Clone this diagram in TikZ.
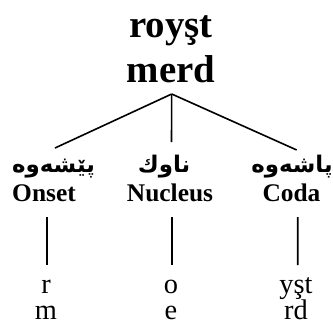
\documentclass[tikz,border=0pt]{standalone}
\usepackage{fontspec}
\setmainfont{Liberation Serif}
\newfontfamily\kurdish[Script=Arabic]{DejaVu Sans}
\TeXXeTstate=1
\begin{document}
\begin{tikzpicture}[x=1bp,y=-1bp,
  head/.style={font=\fontsize{39}{45}\selectfont\bfseries, inner sep=0, anchor=base},
  cat/.style={font=\fontsize{25.5}{30}\selectfont\bfseries, inner sep=0, anchor=base},
  catku/.style={font={\kurdish\fontsize{23}{26}\selectfont\bfseries}, inner sep=0, anchor=base},
  seg/.style={font=\fontsize{28.5}{32}\selectfont, inner sep=0, anchor=base},
  branch/.style={line width=1.6bp, black}]
\useasboundingbox (0,0) rectangle (333,329);

% syllable
\node[head] (w1) at (171,37) {royşt};
\node[head] (w2) at (171,82) {merd};

% constituents (Kurdish and English names)
\node[catku] (ku1) at (53.5,172) {\beginR پێشەوە\endR};
\node[catku] (ku2) at (164,172) {\beginR ناوك\endR};
\node[catku] (ku3) at (292,172) {\beginR پاشەوە\endR};
\node[cat] (c1) at (44,201) {Onset};
\node[cat] (c2) at (170,201) {Nucleus};
\node[cat] (c3) at (291.5,201) {Coda};

% segments
\node[seg] (s1a) at (46,293) {r};
\node[seg] (s1b) at (46,319) {m};
\node[seg] (s2a) at (171,293) {o};
\node[seg] (s2b) at (171,319) {e};
\node[seg] (s3a) at (296,293) {yşt};
\node[seg] (s3b) at (296,319) {rd};

% branches from the syllable
\draw[branch] ([shift={(0.7,12)}]w2.base) -- ([shift={(1.5,-24)}]ku1.base);
\draw[branch] ([shift={(0.7,12)}]w2.base) -- ([shift={(7.5,-30)}]ku2.base);
\draw[branch] ([shift={(0.7,12)}]w2.base) -- ([shift={(4.7,-22)}]ku3.base);

% constituents to segments
\draw[branch] ([shift={(2.7,16)}]c1.base) -- ([shift={(0.7,-28)}]s1a.base);
\draw[branch] ([shift={(1.7,16)}]c2.base) -- ([shift={(0.7,-28)}]s2a.base);
\draw[branch] ([shift={(6.2,16)}]c3.base) -- ([shift={(1.7,-28)}]s3a.base);
\end{tikzpicture}
\end{document}
